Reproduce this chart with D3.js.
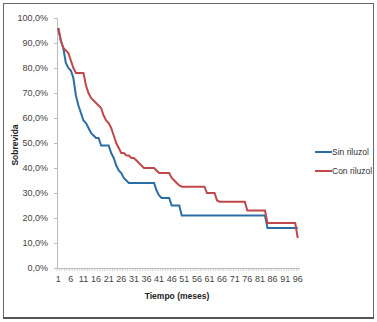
<!DOCTYPE html>
<html>
<head>
<meta charset="utf-8">
<script src="https://cdn.jsdelivr.net/npm/d3@7"></script>
<style>
  body { margin: 0; background: #fff; }
  svg { display: block; font-family: "Liberation Sans Narrow", "Liberation Sans", Arial, sans-serif; }
  .axis text { fill: #444; font-size: 9px; }
  .label { font-size: 8.5px; font-weight: bold; fill: #222; }
</style>
</head>
<body>
<div id="chart"></div>
<script>

// Months 1..96 (category axis)
var months = d3.range( 1, 97 );
var month_labels = d3.range( 1, 97, 5 );
var y_ticks = [0, 0.1, 0.2, 0.3, 0.4, 0.5, 0.6, 0.7, 0.8, 0.9, 1.0];

// Survival (%) per month
var sin_riluzol = [
    96, 91, 88, 82, 80, 79, 76, 69, 65, 62,
    59, 58, 56, 54, 53, 52, 52, 49, 49, 49,
    49, 46, 44, 41, 39, 38, 36, 35, 34, 34,
    34, 34, 34, 34, 34, 34, 34, 34, 34, 31,
    29, 28, 28, 28, 28, 25, 25, 25, 25, 21,
    21, 21, 21, 21, 21, 21, 21, 21, 21, 21,
    21, 21, 21, 21, 21, 21, 21, 21, 21, 21,
    21, 21, 21, 21, 21, 21, 21, 21, 21, 21,
    21, 21, 21, 16, 16, 16, 16, 16, 16, 16,
    16, 16, 16, 16, 16, 16
];

var con_riluzol = [
    96, 91, 88, 87, 86, 83, 80, 78, 78, 78,
    78, 73, 70, 68, 67, 66, 65, 64, 61, 59,
    58, 56, 53, 50, 48, 46, 46, 45, 45, 44,
    44, 43, 42, 41, 40, 40, 40, 40, 40, 39,
    38, 38, 38, 38, 38, 36, 35, 34, 33, 32.5,
    32.5, 32.5, 32.5, 32.5, 32.5, 32.5, 32.5, 32.5, 32.5, 30,
    30, 30, 30, 27, 26.5, 26.5, 26.5, 26.5, 26.5, 26.5,
    26.5, 26.5, 26.5, 26.5, 26.5, 23, 23, 23, 23, 23,
    23, 23, 23, 18, 18, 18, 18, 18, 18, 18,
    18, 18, 18, 18, 18, 12
];

var series_names = ['Sin riluzol', 'Con riluzol'];
var colors = ['#2b6ea6', '#c0484a'];

var W = 377, H = 322;
var plot = { left: 57, right: 299, top: 18, bottom: 268 };

var svg = d3.select( '#chart' )
            .append( 'svg' )
            .attr( 'width', W )
            .attr( 'height', H );

// Outer frame
svg.append( 'rect' )
    .attr( 'x', 3.5 )
    .attr( 'y', 3.5 )
    .attr( 'width', 370 )
    .attr( 'height', 314 )
    .attr( 'fill', '#fff' )
    .attr( 'stroke', '#666' )
    .attr( 'stroke-width', 1 );

svg.append( 'line' )
    .attr( 'x1', 3 ).attr( 'x2', 374 )
    .attr( 'y1', 318 ).attr( 'y2', 318 )
    .attr( 'stroke', '#555' )
    .attr( 'stroke-width', 2 );

var x = d3.scaleBand()
          .domain( months )
          .range( [plot.left, plot.right] );

var y = d3.scaleLinear()
          .domain( [0, 1] )
          .range( [plot.bottom, plot.top] );

var fmt = function ( d ) { return ( d * 100 ).toFixed( 1 ).replace( '.', ',' ) + '%'; };

// Y axis
var y_axis = svg.append( 'g' )
    .attr( 'class', 'axis' )
    .attr( 'transform', 'translate(' + plot.left + ',0)' )
    .call( d3.axisLeft( y ).tickValues( y_ticks ).tickFormat( fmt ).tickSize( 3 ).tickPadding( 6 ) );
y_axis.selectAll( 'line, path' ).attr( 'stroke', '#bbb' );

// X axis (labels every 5 months)
var x_axis = svg.append( 'g' )
    .attr( 'class', 'axis' )
    .attr( 'transform', 'translate(0,' + plot.bottom + ')' )
    .call( d3.axisBottom( x ).tickValues( month_labels ).tickSize( 0 ).tickPadding( 8 ) );
x_axis.select( 'path' ).attr( 'stroke', '#bbb' );

// Category tick marks
svg.append( 'g' )
    .selectAll( 'line' )
    .data( months.concat( [null] ) )
    .enter().append( 'line' )
    .attr( 'x1', function ( d ) { return d === null ? plot.right : x( d ); } )
    .attr( 'x2', function ( d ) { return d === null ? plot.right : x( d ); } )
    .attr( 'y1', plot.bottom )
    .attr( 'y2', plot.bottom + 3 )
    .attr( 'stroke', '#bbb' )
    .attr( 'stroke-width', 0.7 );

// Lines
var line = d3.line()
             .x( function ( d, i ) { return x( months[i] ) + x.bandwidth() / 2; } )
             .y( function ( d ) { return y( d / 100 ); } );

svg.selectAll( '.series' )
    .data( [sin_riluzol, con_riluzol] )
    .enter().append( 'path' )
    .attr( 'class', 'series' )
    .attr( 'd', line )
    .attr( 'fill', 'none' )
    .attr( 'stroke', function ( d, i ) { return colors[i]; } )
    .attr( 'stroke-width', 2 );

// Legend
var legend = svg.selectAll( '.legend' )
                .data( series_names ).enter()
                .append( 'g' )
                .attr( 'class', 'legend' )
                .attr( 'transform', function ( d, i ) { return 'translate(315,' + ( 152 + i * 19 ) + ')'; } );

legend.append( 'line' )
    .attr( 'x1', 0 ).attr( 'x2', 17 )
    .attr( 'stroke', function ( d, i ) { return colors[i]; } )
    .attr( 'stroke-width', 2 );

legend.append( 'text' )
    .attr( 'x', 17 )
    .attr( 'dy', '.35em' )
    .style( 'font-size', '8.5px' )
    .style( 'fill', '#333' )
    .text( function ( d ) { return d; } );

// Axis titles
svg.append( 'text' )
    .attr( 'class', 'label' )
    .attr( 'text-anchor', 'middle' )
    .attr( 'x', 177 )
    .attr( 'y', 299 )
    .text( 'Tiempo (meses)' );

svg.append( 'text' )
    .attr( 'class', 'label' )
    .attr( 'text-anchor', 'middle' )
    .attr( 'transform', 'translate(18,145) rotate(-90)' )
    .text( 'Sobrevida' );

</script>
</body>
</html>
